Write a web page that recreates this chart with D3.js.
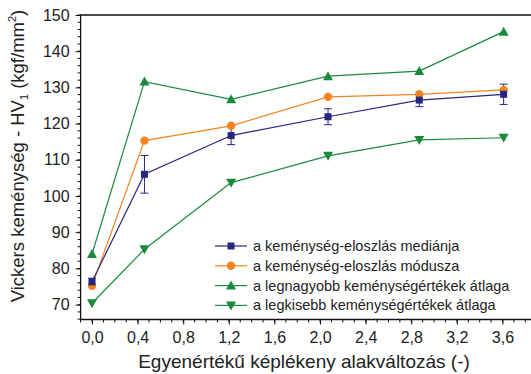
<!DOCTYPE html>
<meta charset="utf-8">
<script src="https://d3js.org/d3.v7.min.js"></script>
<style>
  body { margin: 0; background: #fff; }
  text { font-family: "Liberation Sans", Arial, sans-serif; fill: #222; }
</style>
<div id="my_dataviz"></div>
<script>

// data
var strain = [0, 0.46, 1.22, 2.07, 2.87, 3.61];
var median = [76.3, 106.0, 116.7, 121.9, 126.5, 128.1];
var medianErr = [1.0, 5.2, 2.5, 2.2, 1.8, 2.8];
var mode = [75.2, 115.3, 119.4, 127.4, 128.1, 129.3];
var maxAvg = [84.0, 131.6, 126.7, 133.1, 134.5, 145.4];
var minAvg = [70.4, 85.3, 103.7, 111.1, 115.5, 116.1];

var xTicks = [0, 0.4, 0.8, 1.2, 1.6, 2.0, 2.4, 2.8, 3.2, 3.6];
var yTicks = [70, 80, 90, 100, 110, 120, 130, 140, 150];

var seriesNames = [
  "a keménység-eloszlás mediánja",
  "a keménység-eloszlás módusza",
  "a legnagyobb keménységértékek átlaga",
  "a legkisebb keménységértékek átlaga"
];

var W = 531, H = 374;
var margin = {top: 15, left: 80.6, bottom: 319.5};

var svg = d3.select("#my_dataviz")
  .append("svg")
    .attr("width", W)
    .attr("height", H);

var x = d3.scaleLinear().domain([-0.1, 3.85]).range([margin.left, 531]);
var y = d3.scaleLinear().domain([65.9, 150]).range([margin.bottom, margin.top]);

// minor ticks
var xMinor = d3.range(-0.1, 3.86, 0.1);
var yMinor = d3.range(66, 150.1, 2);

svg.append("g")
  .selectAll("line")
  .data(xMinor)
  .enter().append("line")
    .attr("x1", function(d) { return x(d); })
    .attr("x2", function(d) { return x(d); })
    .attr("y1", margin.bottom)
    .attr("y2", margin.bottom + 3)
    .attr("stroke", "#111");

svg.append("g")
  .selectAll("line")
  .data(yMinor)
  .enter().append("line")
    .attr("x1", margin.left - 3)
    .attr("x2", margin.left)
    .attr("y1", function(d) { return y(d); })
    .attr("y2", function(d) { return y(d); })
    .attr("stroke", "#111");

// X axis
var xAxis = svg.append("g")
  .attr("transform", "translate(0," + margin.bottom + ")")
  .call(d3.axisBottom(x).tickValues(xTicks).tickSize(5).tickSizeOuter(0)
    .tickFormat(function(d) { return d3.format(".1f")(d).replace(".", ","); }));
xAxis.select(".domain").remove();
xAxis.selectAll("line").attr("stroke", "#111");
xAxis.selectAll("text")
  .attr("y", 12)
  .style("font-size", "16px")
  .style("font-family", "Liberation Sans, Arial, sans-serif")
  .attr("fill", "#222");

// Y axis
var yAxis = svg.append("g")
  .attr("transform", "translate(" + margin.left + ",0)")
  .call(d3.axisLeft(y).tickValues(yTicks).tickSize(5).tickSizeOuter(0));
yAxis.select(".domain").remove();
yAxis.selectAll("line").attr("stroke", "#111");
yAxis.selectAll("text")
  .attr("x", -11)
  .style("font-size", "16px")
  .style("font-family", "Liberation Sans, Arial, sans-serif")
  .attr("fill", "#222");

// frame (right side falls outside the picture)
svg.append("path")
  .attr("d", "M" + (W + 5) + "," + margin.top + "H" + margin.left + "V" + margin.bottom + "H" + (W + 5))
  .attr("fill", "none")
  .attr("stroke", "#111")
  .attr("stroke-width", 1.3);

var series = [
  {name: seriesNames[0], values: median, color: "#262680", shape: "square"},
  {name: seriesNames[1], values: mode, color: "#f5841f", shape: "circle"},
  {name: seriesNames[2], values: maxAvg, color: "#1a8a3c", shape: "up"},
  {name: seriesNames[3], values: minAvg, color: "#1a8a3c", shape: "down"}
];

var line = d3.line()
  .x(function(d, i) { return x(strain[i]); })
  .y(function(d) { return y(d); });

function marker(g, shape, color) {
  if (shape == "square") {
    g.append("rect").attr("x", -3.5).attr("y", -3.5).attr("width", 7).attr("height", 7).attr("fill", color);
  } else if (shape == "circle") {
    g.append("circle").attr("r", 4.2).attr("fill", color);
  } else if (shape == "up") {
    g.append("path").attr("d", "M0,-5L5,4L-5,4Z").attr("fill", color);
  } else {
    g.append("path").attr("d", "M0,5L5,-4L-5,-4Z").attr("fill", color);
  }
}

// lines, drawn bottom-up so the median sits on top
[3, 2, 1, 0].forEach(function(k) {
  var s = series[k];
  svg.append("path")
    .datum(s.values)
    .attr("d", line)
    .attr("fill", "none")
    .attr("stroke", s.color)
    .attr("stroke-width", 1.2);
});

// error bars of the median
var eb = svg.append("g").attr("stroke", "#262680").attr("stroke-width", 1);
median.forEach(function(v, i) {
  var cx = x(strain[i]);
  eb.append("line").attr("x1", cx).attr("x2", cx)
    .attr("y1", y(v - medianErr[i])).attr("y2", y(v + medianErr[i]));
  eb.append("line").attr("x1", cx - 4).attr("x2", cx + 4)
    .attr("y1", y(v - medianErr[i])).attr("y2", y(v - medianErr[i]));
  eb.append("line").attr("x1", cx - 4).attr("x2", cx + 4)
    .attr("y1", y(v + medianErr[i])).attr("y2", y(v + medianErr[i]));
});

[3, 2, 1, 0].forEach(function(k) {
  var s = series[k];
  s.values.forEach(function(v, i) {
    var g = svg.append("g").attr("transform", "translate(" + x(strain[i]) + "," + y(v) + ")");
    marker(g, s.shape, s.color);
  });
});

// legend
var legend = svg.append("g").attr("transform", "translate(215,246)");
series.forEach(function(s, i) {
  var g = legend.append("g").attr("transform", "translate(0," + (i * 19.8) + ")");
  g.append("line").attr("x1", 0).attr("x2", 32).attr("y1", 0).attr("y2", 0)
    .attr("stroke", s.color).attr("stroke-width", 1.2);
  var m = g.append("g").attr("transform", "translate(16,0)");
  marker(m, s.shape, s.color);
  g.append("text")
    .attr("x", 38)
    .attr("y", 5)
    .style("font-size", "14.5px")
    .text(s.name);
});

// axis titles
svg.append("text")
  .attr("x", 304)
  .attr("y", 368)
  .attr("text-anchor", "middle")
  .style("font-size", "19px")
  .text("Egyenértékű képlékeny alakváltozás (-)");

var yt = svg.append("text")
  .attr("transform", "translate(24," + 156 + ") rotate(-90)")
  .attr("text-anchor", "middle")
  .style("font-size", "18.5px");
yt.append("tspan").text("Vickers keménység - HV");
yt.append("tspan").attr("dy", 4).style("font-size", "11px").text("1");
yt.append("tspan").attr("dy", -4).text(" (kgf/mm");
yt.append("tspan").attr("dy", -8).style("font-size", "11px").text("2");
yt.append("tspan").attr("dy", 8).text(")");

</script>
